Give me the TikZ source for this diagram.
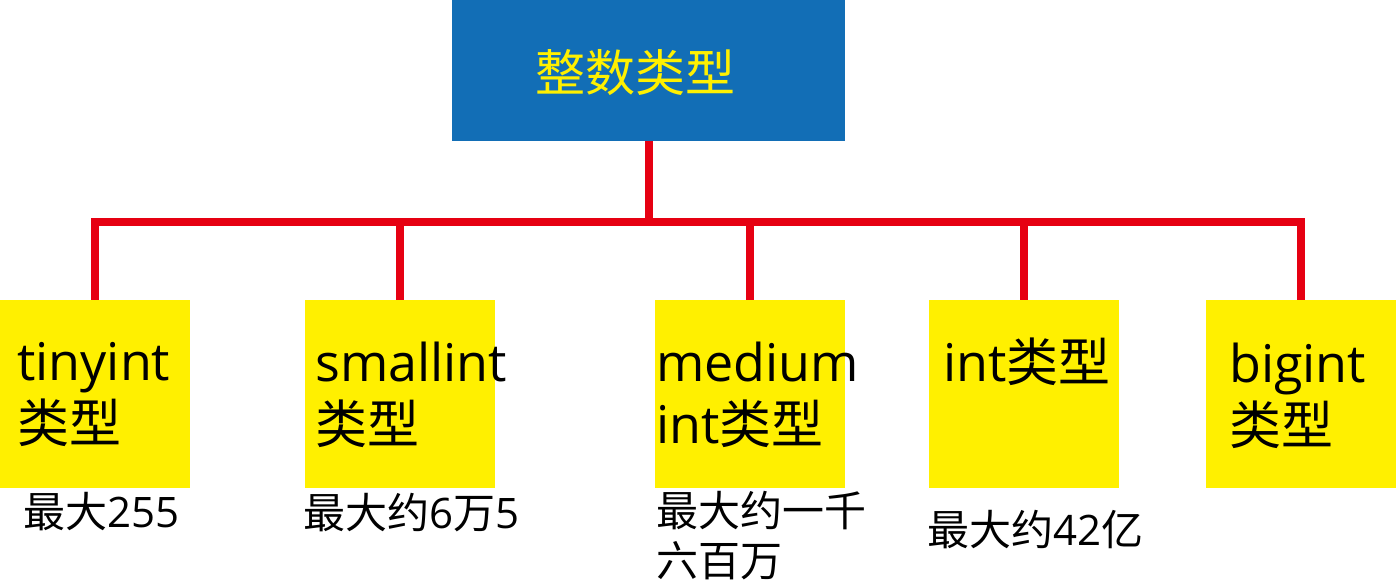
\documentclass[tikz,border=0pt]{standalone}
\usepackage{fontspec}
\setmainfont{Open Sans}
\newfontfamily\cjk{Noto Sans CJK SC}
\definecolor{titleblue}{RGB}{18,110,182}
\definecolor{boxyellow}{RGB}{255,240,0}
\definecolor{linkred}{RGB}{230,0,18}

\begin{document}
\begin{tikzpicture}[x=1pt, y=-1pt, line join=miter,
  typebox/.style={fill=boxyellow, minimum width=190pt, minimum height=188pt, inner sep=0pt},
  typetext/.style={anchor=base west, align=left, inner sep=0pt, font=\fontsize{52}{62}\selectfont},
  rangetext/.style={anchor=base west, align=left, inner sep=0pt, font=\fontsize{42}{50}\selectfont},
  link/.style={draw=linkred, line width=8pt}]
\useasboundingbox (0,0) rectangle (1396,587);
% top box
\node[fill=titleblue, minimum width=393pt, minimum height=141pt, inner sep=0pt] (root) at (648.5,70.5) {};
\node[anchor=base west, inner sep=0pt, text=boxyellow, font=\fontsize{50}{60}\cjk] (title) at (535,91) {整数类型};
% type boxes
\node[typebox] (tiny) at (94.5,394) {};
\node[typebox] (small) at (400,394) {};
\node[typebox] (medium) at (750,394) {};
\node[typebox] (int) at (1024,394) {};
\node[typebox] (big) at (1301,394) {};
% multi-line texts sit on their last baseline
\node[typetext] (tinytxt) at (17,442) {tinyint\\{\cjk 类型}};
\node[typetext] (smalltxt) at (315,443) {smallint\\{\cjk 类型}};
\node[typetext] (mediumtxt) at (656,443) {medium\\int{\cjk 类型}};
\node[typetext] (inttxt) at (943,381) {int{\cjk 类型}};
\node[typetext] (bigtxt) at (1229,444) {bigint\\{\cjk 类型}};
% ranges
\node[rangetext] (tinymax) at (23,527) {{\cjk 最大}255};
\node[rangetext] (smallmax) at (303,528) {{\cjk 最大约}6{\cjk 万}5};
\node[rangetext] (mediummax) at (656,576) {{\cjk 最大约一千}\\{\cjk 六百万}};
\node[rangetext] (intmax) at (927,545) {{\cjk 最大约}42{\cjk 亿}};
% links
\coordinate (bus) at (648,222);
\draw[link] (root.south) -- (root.south |- bus);
\draw[link] (tiny.north) |- (bus) -| (big.north);
\draw[link] (small.north) -- (small.north |- bus);
\draw[link] (medium.north) -- (medium.north |- bus);
\draw[link] (int.north) -- (int.north |- bus);
\end{tikzpicture}
\end{document}
